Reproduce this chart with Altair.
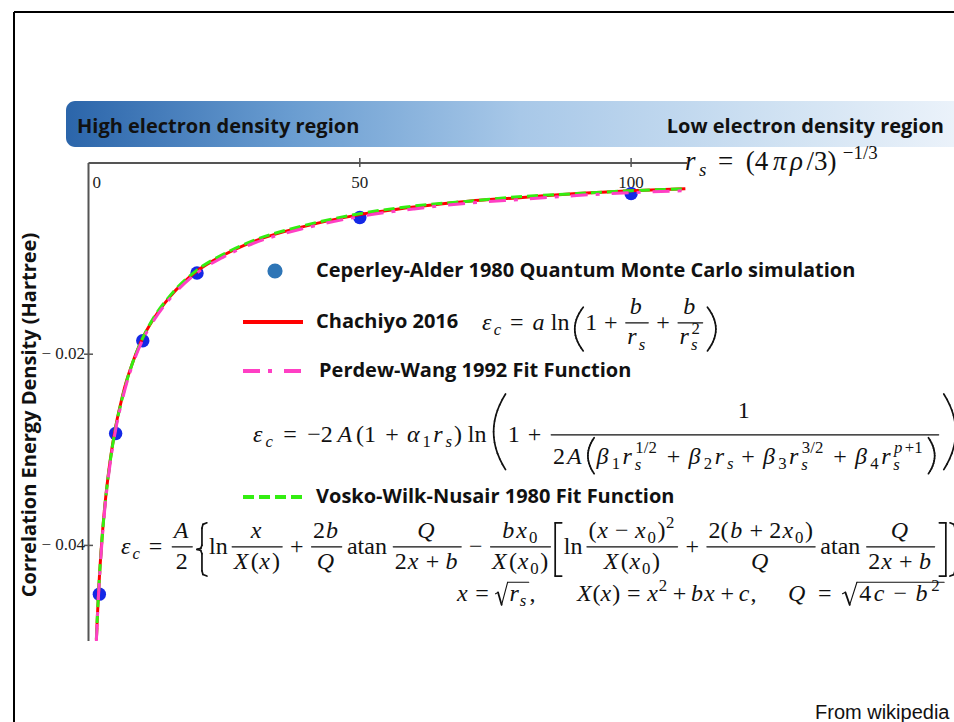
import altair as alt
import pandas as pd

# ---------------------------------------------------------------- data
RS = [1.45, 1.6, 1.8, 2, 2.5, 3, 3.5, 4, 5, 6, 7, 8, 10, 12, 15, 20, 25, 30,
      40, 50, 60, 70, 80, 90, 100, 110]
EC_CHACHIYO = [-0.0499, -0.0479, -0.0455, -0.0434, -0.0392, -0.0359, -0.0333,
               -0.0311, -0.0276, -0.0250, -0.0228, -0.0211, -0.0183, -0.0163,
               -0.0140, -0.0113, -0.0096, -0.0083, -0.0066, -0.0054, -0.0046,
               -0.0040, -0.0036, -0.0032, -0.0029, -0.0027]
EC_PW92 = [-0.0500, -0.0481, -0.0457, -0.0437, -0.0395, -0.0362, -0.0336,
           -0.0314, -0.0279, -0.0253, -0.0231, -0.0213, -0.0185, -0.0165,
           -0.0142, -0.0115, -0.0098, -0.0085, -0.0068, -0.0056, -0.0048,
           -0.0042, -0.0038, -0.0034, -0.0031, -0.0029]
EC_VWN = [-0.0498, -0.0478, -0.0455, -0.0434, -0.0393, -0.0360, -0.0334,
          -0.0312, -0.0277, -0.0251, -0.0229, -0.0211, -0.0183, -0.0162,
          -0.0139, -0.0112, -0.0095, -0.0082, -0.0065, -0.0053, -0.0045,
          -0.0040, -0.0035, -0.0032, -0.0029, -0.0027]
CA_RS = [2, 5, 10, 20, 50, 100]
CA_EC = [-0.0451, -0.0283, -0.0186, -0.0115, -0.0057, -0.0032]

X_TICKS = [0, 50, 100]
X_TICK_LABELS = ["0", "50", "100"]
Y_TICKS = [-0.02, -0.04]
Y_TICK_LABELS = ["− 0.02", "− 0.04"]

SANS = "Open Sans"
MATH = "Liberation Serif"
INK = "#111111"

XS = alt.Scale(domain=[0, 110.3], range=[88.5, 687], nice=False, zero=False)
YS = alt.Scale(domain=[-0.05, 0], range=[641, 163], nice=False, zero=False)
NOAX = dict(axis=None)


def one():
    return alt.Chart(pd.DataFrame({"k": [0]}))


# ------------------------------------------------------ tiny math typesetter
W_UP = dict.fromkeys("0123456789", 0.5)
W_UP.update({"+": .564, "=": .564, "−": .564, "(": .333, ")": .333, "[": .333,
             "]": .333, "{": .48, "}": .48, "/": .278, ",": .25, " ": .25,
             "l": .278, "n": .5, "a": .444, "t": .278})
W_IT = {"r": .389, "s": .389, "x": .444, "X": .611, "A": .611, "Q": .722,
        "b": .5, "c": .444, "a": .5, "p": .5, "ε": .40, "α": .50, "β": .5,
        "π": .48, "ρ": .46}


def adv(s, italic):
    table = W_IT if italic else W_UP
    return sum(table.get(ch, 0.5) for ch in s)


def delimiter(ch, x, top, bottom, w):
    """Stretchy delimiter drawn as a thin polyline."""
    h = bottom - top
    mid = (top + bottom) / 2
    if ch in "()":
        n = 14
        pts = []
        for i in range(n + 1):
            s = -1 + 2 * i / n
            bulge = s * s
            px = x + w * bulge if ch == "(" else x + w * (1 - bulge)
            pts.append((px, mid + s * h / 2))
    elif ch in "[]":
        if ch == "[":
            pts = [(x + w, top), (x, top), (x, bottom), (x + w, bottom)]
        else:
            pts = [(x, top), (x + w, top), (x + w, bottom), (x, bottom)]
    else:
        shape = [(1, 0), (0.6, 0.03), (0.5, 0.1), (0.5, 0.42), (0.38, 0.48),
                 (0, 0.5), (0.38, 0.52), (0.5, 0.58), (0.5, 0.9), (0.6, 0.97),
                 (1, 1)]
        if ch == "{":
            pts = [(x + w * u, top + h * v) for u, v in shape]
        else:
            pts = [(x + w * (1 - u), top + h * v) for u, v in shape]
    return [(a[0], a[1], b[0], b[1], 1.7) for a, b in zip(pts[:-1], pts[1:])]


def typeset(tokens, F):
    """Lay out a token list; returns glyphs, strokes and total advance."""
    glyphs, strokes = [], []
    x = 0.0
    for tok in tokens:
        kind = tok[0]
        if kind in ("i", "n"):
            it = kind == "i"
            glyphs.append((tok[1], x, 0.0, F, it))
            x += adv(tok[1], it) * F + (0.04 * F if it else 0)
        elif kind in ("op", "rel"):
            gap = (0.2 if kind == "op" else 0.28) * F
            x += gap
            glyphs.append((tok[1], x, 0.0, F, False))
            x += adv(tok[1], False) * F + gap
        elif kind == "sp":
            x += tok[1] * F
        elif kind in ("sub", "subn", "sup", "supi"):
            it = kind in ("sub", "supi")
            f = 0.7 * F
            dy = 0.22 * F if kind.startswith("sub") else -0.42 * F
            glyphs.append((tok[1], x, dy, f, it))
            x += adv(tok[1], it) * f + 0.03 * F
        elif kind == "ss":
            f = 0.7 * F
            glyphs.append((tok[1], x, 0.25 * F, f, True))
            w1 = adv(tok[1], True) * f
            g2, _, w2 = typeset(tok[2], f)
            glyphs += [(t, x + gx + 0.02 * F, gy - 0.45 * F, gs, gi)
                       for t, gx, gy, gs, gi in g2]
            x += max(w1, w2) + 0.03 * F
        elif kind == "frac":
            ng, dg = tok[3] if len(tok) > 3 else (0.36, 0.9)
            g1, s1, w1 = typeset(tok[1], F)
            g2, s2, w2 = typeset(tok[2], F)
            w = max(w1, w2) + 0.24 * F
            bar = -0.3 * F
            for g, s, wi, dy in ((g1, s1, w1, bar - ng * F),
                                 (g2, s2, w2, bar + dg * F)):
                ox = x + (w - wi) / 2
                glyphs += [(t, ox + gx, gy + dy, gs, gi)
                           for t, gx, gy, gs, gi in g]
                strokes += [(ox + a, b + dy, ox + c, d + dy, sw)
                            for a, b, c, d, sw in s]
            strokes.append((x + 0.06 * F, bar, x + w - 0.06 * F, bar, 1.2))
            x += w + 0.04 * F
        elif kind == "big":
            top, bottom = tok[2] * F, tok[3] * F
            w = tok[4] * F
            strokes += delimiter(tok[1], x + 0.08 * F, top, bottom, w)
            x += w + 0.16 * F
        elif kind == "sqrt":
            g, s, w = typeset(tok[1], F)
            top = -0.78 * F
            strokes += [(x, -0.3 * F, x + 0.1 * F, -0.36 * F, 1.1),
                        (x + 0.1 * F, -0.36 * F, x + 0.25 * F, 0.16 * F, 1.8),
                        (x + 0.25 * F, 0.16 * F, x + 0.5 * F, top, 1.1),
                        (x + 0.5 * F, top, x + 0.6 * F + w + 0.05 * F, top, 1.1)]
            ox = x + 0.58 * F
            glyphs += [(t, ox + gx, gy, gs, gi) for t, gx, gy, gs, gi in g]
            x = ox + w + 0.1 * F
    return glyphs, strokes, x


GLYPHS, STROKES = [], []


def place(tokens, x0, y0, F, x_end=None):
    g, s, w = typeset(tokens, F)
    k = (x_end - x0) / w if x_end else 1.0
    for t, gx, gy, gs, gi in g:
        GLYPHS.append(dict(t=t, x=x0 + k * gx, y=y0 + gy, size=gs, italic=gi))
    for a, b, c, d, sw in s:
        STROKES.append(dict(x1=x0 + k * a, y1=y0 + b, x2=x0 + k * c,
                            y2=y0 + d, sw=sw))


# r_s definition at the end of the axis
place([("i", "r"), ("sub", "s"), ("rel", "="), ("n", "(4"), ("i", "π"),
       ("i", "ρ"), ("n", "/3)"), ("sup", "−1/3")], 685, 170, 27, 886)

# Chachiyo 2016
place([("i", "ε"), ("sub", "c"), ("rel", "="), ("i", "a"), ("sp", 0.15),
       ("n", "ln"), ("sp", 0.05), ("big", "(", -0.95, 0.87, 0.32), ("n", "1"),
       ("op", "+"), ("frac", [("i", "b")], [("i", "r"), ("sub", "s")]),
       ("op", "+"),
       ("frac", [("i", "b")], [("i", "r"), ("ss", "s", [("n", "2")])]),
       ("big", ")", -0.95, 0.87, 0.32)], 482, 330, 24, 718)

# Perdew-Wang 1992
PW_DEN = [("n", "2"), ("i", "A"), ("big", "(", -1.1, 0.4, 0.22),
          ("i", "β"), ("subn", "1"), ("i", "r"), ("ss", "s", [("n", "1/2")]),
          ("op", "+"), ("i", "β"), ("subn", "2"), ("i", "r"), ("sub", "s"),
          ("op", "+"), ("i", "β"), ("subn", "3"), ("i", "r"),
          ("ss", "s", [("n", "3/2")]), ("op", "+"), ("i", "β"), ("subn", "4"),
          ("i", "r"), ("ss", "s", [("i", "p"), ("n", "+1")]),
          ("big", ")", -1.1, 0.4, 0.22)]
place([("i", "ε"), ("sub", "c"), ("rel", "="), ("n", "−2"), ("i", "A"),
       ("n", "(1"), ("op", "+"), ("i", "α"), ("subn", "1"), ("i", "r"),
       ("sub", "s"), ("n", ")"), ("sp", 0.15), ("n", "ln"), ("sp", 0.05),
       ("big", "(", -2.0, 1.15, 0.42), ("n", "1"), ("op", "+"),
       ("frac", [("n", "1")], PW_DEN, (0.7, 1.22)),
       ("big", ")", -2.0, 1.15, 0.42)], 253, 442, 24, 958)

# Vosko-Wilk-Nusair 1980
G = (0.38, 0.92)
X_OF_X = [("i", "X"), ("n", "("), ("i", "x"), ("n", ")")]
X_OF_X0 = [("i", "X"), ("n", "("), ("i", "x"), ("subn", "0"), ("n", ")")]
Q_FRAC = ("frac", [("i", "Q")], [("n", "2"), ("i", "x"), ("op", "+"), ("i", "b")], G)
place([("i", "ε"), ("sub", "c"), ("rel", "="),
       ("frac", [("i", "A")], [("n", "2")], G), ("big", "{", -1.3, 0.92, 0.38),
       ("n", "ln"), ("sp", 0.05), ("frac", [("i", "x")], X_OF_X, G),
       ("op", "+"), ("frac", [("n", "2"), ("i", "b")], [("i", "Q")], G),
       ("sp", 0.1), ("n", "atan"), ("sp", 0.05), Q_FRAC, ("op", "−"),
       ("frac", [("i", "b"), ("i", "x"), ("subn", "0")], X_OF_X0, G),
       ("big", "[", -1.3, 0.92, 0.25), ("n", "ln"), ("sp", 0.05),
       ("frac", [("n", "("), ("i", "x"), ("op", "−"), ("i", "x"),
                 ("subn", "0"), ("n", ")"), ("sup", "2")], X_OF_X0, G),
       ("op", "+"),
       ("frac", [("n", "2("), ("i", "b"), ("op", "+"), ("n", "2"), ("i", "x"),
                 ("subn", "0"), ("n", ")")], [("i", "Q")], G),
       ("sp", 0.1), ("n", "atan"), ("sp", 0.05), Q_FRAC,
       ("big", "]", -1.3, 0.92, 0.25), ("big", "}", -1.3, 0.92, 0.38)],
      121, 554, 24, 962)

# VWN auxiliary definitions, three groups on one line
place([("i", "x"), ("rel", "="), ("sqrt", [("i", "r"), ("sub", "s")]),
       ("n", ",")], 457, 601, 24)
place([("i", "X"), ("n", "("), ("i", "x"), ("n", ")"), ("rel", "="),
       ("i", "x"), ("sup", "2"), ("op", "+"), ("i", "b"), ("i", "x"),
       ("op", "+"), ("i", "c"), ("n", ",")], 577, 601, 24)
place([("i", "Q"), ("rel", "="),
       ("sqrt", [("n", "4"), ("i", "c"), ("op", "−"), ("i", "b"), ("sup", "2")])],
      788, 601, 24, 945)

glyphs = pd.DataFrame(GLYPHS)
strokes = pd.DataFrame(STROKES)


def glyph_layer(df, style):
    return alt.Chart(df).mark_text(
        font=MATH, fontStyle=style, align="left", baseline="alphabetic", color=INK
    ).encode(
        x=alt.X("x:Q", scale=None, **NOAX),
        y=alt.Y("y:Q", scale=None, **NOAX),
        size=alt.Size("size:Q", scale=None, legend=None),
        text="t:N",
    )


math_italic = glyph_layer(glyphs[glyphs["italic"]], "italic")
math_upright = glyph_layer(glyphs[~glyphs["italic"]], "normal")
math_strokes = alt.Chart(strokes).mark_rule(color=INK, strokeCap="round").encode(
    x=alt.X("x1:Q", scale=None, **NOAX), y=alt.Y("y1:Q", scale=None, **NOAX),
    x2="x2:Q", y2="y2:Q",
    strokeWidth=alt.StrokeWidth("sw:Q", scale=None, legend=None))

# ------------------------------------------------------------ frame & banner
frame_top = one().mark_rule(color="black", strokeWidth=2).encode(
    x=alt.value(14), x2=alt.value(954), y=alt.value(12))
frame_left = one().mark_rule(color="black", strokeWidth=2).encode(
    x=alt.value(14), y=alt.value(12), y2=alt.value(722))

banner = one().mark_rect(
    cornerRadius=9,
    fill=alt.Gradient(
        gradient="linear", x1=0, x2=1, y1=0, y2=0,
        stops=[alt.GradientStop(color="#2b65aa", offset=0),
               alt.GradientStop(color="#6a9dd1", offset=0.25),
               alt.GradientStop(color="#a8c8e8", offset=0.5),
               alt.GradientStop(color="#d2e3f3", offset=0.8),
               alt.GradientStop(color="#eef4fb", offset=1)]),
).encode(x=alt.value(66), x2=alt.value(975), y=alt.value(101), y2=alt.value(147))


def label(text, x, y, size=20, align="left", weight="bold", font=SANS,
          angle=0, color=INK, baseline="middle"):
    props = dict(text=text, font=font, fontSize=size, fontWeight=weight,
                 align=align, baseline=baseline, color=color)
    if angle:
        props["angle"] = angle
    return one().mark_text(**props).encode(x=alt.value(x), y=alt.value(y))


banner_left = label("High electron density region", 77, 127)
banner_right = label("Low electron density region", 944, 127, align="right")
y_title = label("Correlation Energy Density (Hartree)", 30, 415, align="center",
                angle=270)
source = label("From wikipedia", 815, 713, size=20, weight="normal",
               font="Liberation Sans")

# ------------------------------------------------------------------ axes
x_axis = alt.Chart(pd.DataFrame({"a": [0], "b": [110.3], "y": [0]})).mark_rule(
    color="#555", strokeWidth=2).encode(
    x=alt.X("a:Q", scale=XS, **NOAX), x2="b:Q", y=alt.Y("y:Q", scale=YS, **NOAX))
y_axis = alt.Chart(pd.DataFrame({"x": [0], "a": [0], "b": [-0.05]})).mark_rule(
    color="#555", strokeWidth=2).encode(
    x=alt.X("x:Q", scale=XS, **NOAX), y=alt.Y("a:Q", scale=YS, **NOAX), y2="b:Q")

xt = pd.DataFrame({"v": X_TICKS, "lab": X_TICK_LABELS})
x_ticks = alt.Chart(xt[xt["v"] > 0]).mark_rule(color="#555", strokeWidth=1.5).encode(
    x=alt.X("v:Q", scale=XS, **NOAX), y=alt.value(158), y2=alt.value(167))
x_labels = alt.Chart(xt[xt["v"] > 0]).mark_text(
    font=MATH, fontSize=17, color="#222", baseline="middle").encode(
    x=alt.X("v:Q", scale=XS, **NOAX), y=alt.value(183), text="lab:N")
x_label0 = alt.Chart(xt[xt["v"] == 0]).mark_text(
    font=MATH, fontSize=17, color="#222", baseline="middle", align="left", dx=4).encode(
    x=alt.X("v:Q", scale=XS, **NOAX), y=alt.value(183), text="lab:N")

yt = pd.DataFrame({"v": Y_TICKS, "lab": Y_TICK_LABELS})
y_ticks = alt.Chart(yt).mark_rule(color="#555", strokeWidth=1.5).encode(
    y=alt.Y("v:Q", scale=YS, **NOAX), x=alt.value(84), x2=alt.value(93))
y_labels = alt.Chart(yt).mark_text(
    font=MATH, fontSize=17, color="#222", baseline="middle", align="right").encode(
    y=alt.Y("v:Q", scale=YS, **NOAX), x=alt.value(85), text="lab:N")


# ------------------------------------------------------------ data marks
def curve(values, color, dash=None):
    props = dict(color=color, strokeWidth=3, interpolate="monotone")
    if dash:
        props["strokeDash"] = dash
    return alt.Chart(pd.DataFrame({"rs": RS, "ec": values})).mark_line(**props).encode(
        x=alt.X("rs:Q", scale=XS, **NOAX), y=alt.Y("ec:Q", scale=YS, **NOAX),
        order="rs:Q")


RED, MAGENTA, GREEN = "#ff0000", "#ff3fc4", "#33ee11"
PW_DASH, VWN_DASH = [17, 8, 4, 12], [11, 5]

ca_points = alt.Chart(pd.DataFrame({"rs": CA_RS, "ec": CA_EC})).mark_circle(
    size=180, color="#1428e6", opacity=1).encode(
    x=alt.X("rs:Q", scale=XS, **NOAX), y=alt.Y("ec:Q", scale=YS, **NOAX))
line_chachiyo = curve(EC_CHACHIYO, RED)
line_vwn = curve(EC_VWN, GREEN, VWN_DASH)
line_pw = curve(EC_PW92, MAGENTA, PW_DASH)

# ------------------------------------------------------------------ legend
leg_dot = one().mark_circle(size=230, color="#2e75b6", opacity=1).encode(
    x=alt.value(275), y=alt.value(271))
leg_red = one().mark_rule(color=RED, strokeWidth=4).encode(
    x=alt.value(243), x2=alt.value(303), y=alt.value(322))
leg_pw = one().mark_rule(color=MAGENTA, strokeWidth=4, strokeDash=PW_DASH).encode(
    x=alt.value(243), x2=alt.value(303), y=alt.value(371))
leg_vwn = one().mark_rule(color=GREEN, strokeWidth=4, strokeDash=VWN_DASH).encode(
    x=alt.value(243), x2=alt.value(303), y=alt.value(497))
leg_t1 = label("Ceperley-Alder 1980 Quantum Monte Carlo simulation", 316, 271)
leg_t2 = label("Chachiyo 2016", 316, 322)
leg_t3 = label("Perdew-Wang 1992 Fit Function", 319, 371)
leg_t4 = label("Vosko-Wilk-Nusair 1980 Fit Function", 316, 497)

chart = alt.layer(
    frame_top, frame_left, banner, banner_left, banner_right, y_title, source,
    x_axis, y_axis, x_ticks, x_labels, x_label0, y_ticks, y_labels,
    ca_points, line_chachiyo, line_vwn, line_pw,
    leg_dot, leg_red, leg_pw, leg_vwn, leg_t1, leg_t2, leg_t3, leg_t4,
    math_strokes, math_italic, math_upright,
).resolve_scale(
    x="independent", y="independent", size="independent",
    strokeWidth="independent",
).properties(
    width=954, height=722, padding=0, autosize=alt.AutoSizeParams(type="none"),
    background="white",
).configure_view(stroke=None)

chart.save("out.html", embed_options={"renderer": "svg", "actions": False})
